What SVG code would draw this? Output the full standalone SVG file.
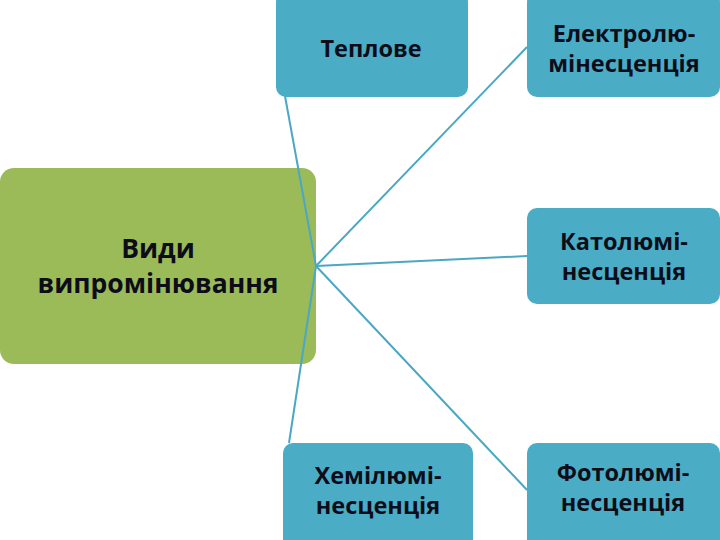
<svg xmlns="http://www.w3.org/2000/svg" width="720" height="540" viewBox="0 0 720 540">
<style>
.blue{fill:#4BACC6;}
.green{fill:#9BBB59;}
.t{font-family:"Open Sans","Noto Sans","DejaVu Sans",sans-serif;font-weight:700;fill:#0d0d1a;text-anchor:middle;}
.s{font-size:23.5px;}
.g{font-size:26.5px;}
.c{stroke:#4AA8C4;stroke-width:2;fill:none;}
</style>
<rect width="720" height="540" fill="#ffffff"/>
<g id="node-vydy">
<rect class="green" x="0" y="168" width="316" height="196" rx="14"/>
<text class="t g" x="158" y="258">Види</text>
<text class="t g" x="158" y="293">випромінювання</text>
</g>
<g id="node-teplove">
<rect class="blue" x="276" y="-8" width="192" height="105" rx="10"/>
<text class="t s" x="371" y="57">Теплове</text>
</g>
<g id="node-elektro">
<rect class="blue" x="527" y="-8" width="193" height="105" rx="10"/>
<text class="t s" x="624" y="42">Електролю-</text>
<text class="t s" x="624" y="72">мінесценція</text>
</g>
<g id="node-kato">
<rect class="blue" x="527" y="208" width="193" height="96" rx="10"/>
<text class="t s" x="624" y="250">Католюмі-</text>
<text class="t s" x="624" y="280">несценція</text>
</g>
<g id="node-hemi">
<rect class="blue" x="283" y="443" width="190" height="107" rx="10"/>
<text class="t s" x="378" y="484">Хемілюмі-</text>
<text class="t s" x="378" y="514">несценція</text>
</g>
<g id="node-foto">
<rect class="blue" x="527" y="443" width="193" height="107" rx="10"/>
<text class="t s" x="623" y="481">Фотолюмі-</text>
<text class="t s" x="623" y="511">несценція</text>
</g>
<g id="connectors">
<line class="c" x1="316" y1="266" x2="285" y2="96"/>
<line class="c" x1="316" y1="266" x2="527" y2="47"/>
<line class="c" x1="316" y1="266" x2="527" y2="256"/>
<line class="c" x1="316" y1="266" x2="527" y2="490"/>
<line class="c" x1="316" y1="266" x2="289" y2="443"/>
</g>
</svg>
